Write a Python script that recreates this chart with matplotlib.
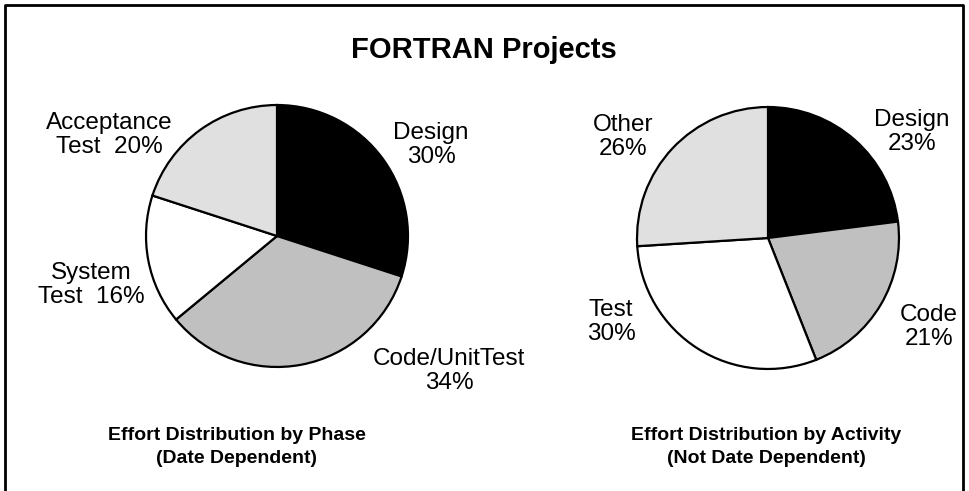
import matplotlib
matplotlib.use("Agg")
import matplotlib.pyplot as plt
from matplotlib.lines import Line2D

plt.rcParams['font.family'] = ['Liberation Sans', 'DejaVu Sans']

title = "FORTRAN Projects"

phase_labels = ["Design", "Code/UnitTest", "System Test", "Acceptance Test"]
phase_values = [30, 34, 16, 20]
activity_labels = ["Design", "Code", "Test", "Other"]
activity_values = [23, 21, 30, 26]

colors = ["#000000", "#c0c0c0", "#ffffff", "#e0e0e0"]

phase_caption = "Effort Distribution by Phase\n(Date Dependent)"
activity_caption = "Effort Distribution by Activity\n(Not Date Dependent)"

W, H = 969, 491
fig = plt.figure(figsize=(W / 100, H / 100), dpi=100)


def px_axes(cx, cy, r):
    return fig.add_axes([(cx - r) / W, (H - cy - r) / H, 2 * r / W, 2 * r / H])


def ftext(x, y, s, **kw):
    fig.text(x / W, 1 - y / H, s, **kw)


def draw_pie(ax, values):
    ax.pie(values, colors=colors, startangle=90, counterclock=False, radius=1,
           wedgeprops=dict(edgecolor="black", linewidth=1.6))
    ax.set_xlim(-1.02, 1.02)
    ax.set_ylim(-1.02, 1.02)
    ax.set_axis_off()


ax1 = px_axes(277, 236, 133.6)
draw_pie(ax1, phase_values)
ax2 = px_axes(768, 238, 133.6)
draw_pie(ax2, activity_values)

lab = dict(fontsize=17.5, ha="center", va="center", linespacing=1.1)
ftext(109, 135, "Acceptance\nTest  20%", **lab)
ftext(431, 145, "Design\n30%", **lab)
ftext(91, 285, "System\nTest  16%", **lab)
ftext(449, 371, "Code/UnitTest\n34%", **lab)

ftext(623, 137, "Other\n26%", **lab)
ftext(912, 132, "Design\n23%", **lab)
ftext(611, 322, "Test\n30%", **lab)
ftext(929, 327, "Code\n21%", **lab)

ftext(484, 50, title, fontsize=21, fontweight="bold", ha="center", va="center")
ftext(237, 447, phase_caption, fontsize=14, fontweight="bold", ha="center",
      va="center", linespacing=1.45)
ftext(766, 447, activity_caption, fontsize=14, fontweight="bold", ha="center",
      va="center", linespacing=1.45)

# frame (bottom edge cut off in the reference)
lw = 2.0
fig.add_artist(Line2D([5 / W, 5 / W, 963 / W, 963 / W],
                      [0, 1 - 5 / H, 1 - 5 / H, 0],
                      transform=fig.transFigure, color="black", linewidth=lw))

fig.savefig("out.png", dpi=100, facecolor="white")
